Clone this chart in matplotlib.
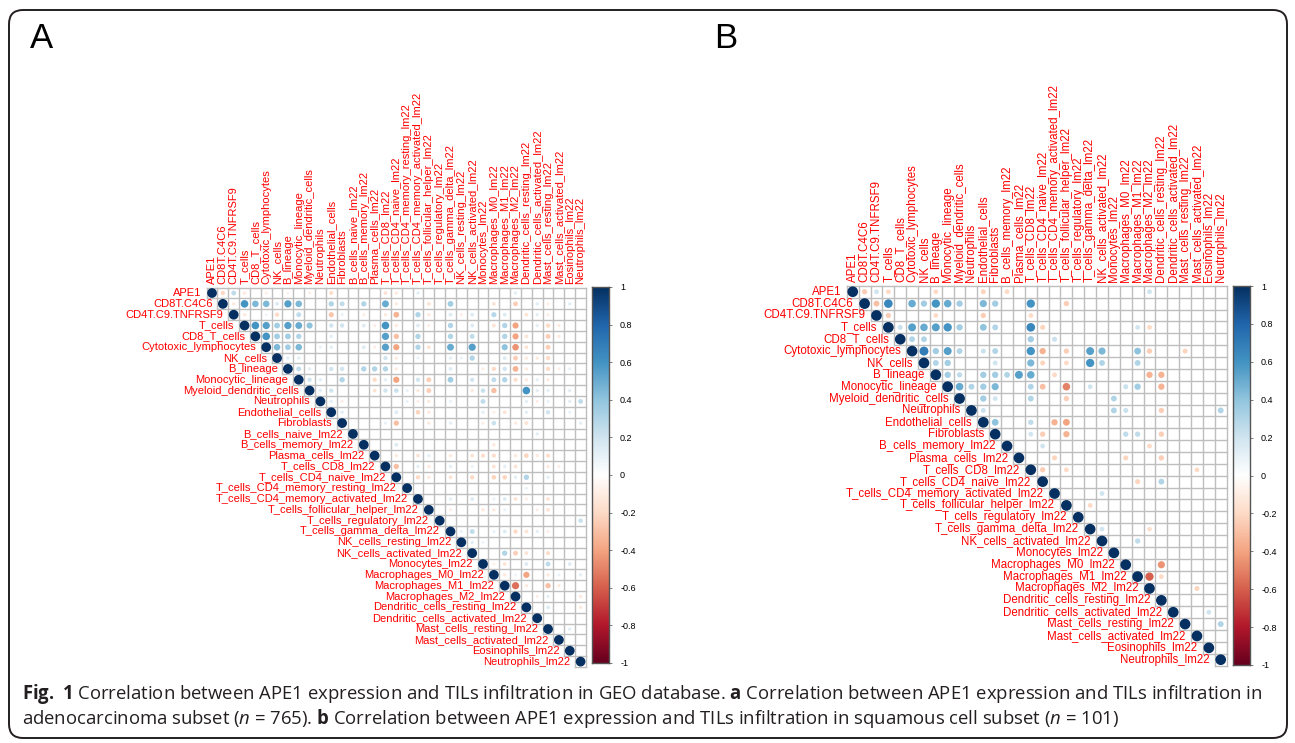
import numpy as np
import matplotlib
matplotlib.use('Agg')
import matplotlib.pyplot as plt
from matplotlib.patches import Circle, FancyBboxPatch
from matplotlib.colors import LinearSegmentedColormap
from matplotlib.transforms import IdentityTransform

plt.rcParams['font.family'] = ['Liberation Sans', 'DejaVu Sans']
plt.rcParams['mathtext.fontset'] = 'custom'
plt.rcParams['mathtext.rm'] = 'Open Sans'
plt.rcParams['mathtext.bf'] = 'Open Sans:bold'
plt.rcParams['mathtext.it'] = 'Open Sans:italic'

W, H = 1295, 743

# ==================== 数据 ====================
A_LABELS = ['APE1', 'CD8T.C4C6', 'CD4T.C9.TNFRSF9', 'T_cells', 'CD8_T_cells',
            'Cytotoxic_lymphocytes', 'NK_cells', 'B_lineage', 'Monocytic_lineage',
            'Myeloid_dendritic_cells', 'Neutrophils', 'Endothelial_cells', 'Fibroblasts',
            'B_cells_naive_lm22', 'B_cells_memory_lm22', 'Plasma_cells_lm22',
            'T_cells_CD8_lm22', 'T_cells_CD4_naive_lm22', 'T_cells_CD4_memory_resting_lm22',
            'T_cells_CD4_memory_activated_lm22', 'T_cells_follicular_helper_lm22',
            'T_cells_regulatory_lm22', 'T_cells_gamma_delta_lm22', 'NK_cells_resting_lm22',
            'NK_cells_activated_lm22', 'Monocytes_lm22', 'Macrophages_M0_lm22',
            'Macrophages_M1_lm22', 'Macrophages_M2_lm22', 'Dendritic_cells_resting_lm22',
            'Dendritic_cells_activated_lm22', 'Mast_cells_resting_lm22',
            'Mast_cells_activated_lm22', 'Eosinophils_lm22', 'Neutrophils_lm22']

B_LABELS = ['APE1', 'CD8T.C4C6', 'CD4T.C9.TNFRSF9', 'T_cells', 'CD8_T_cells',
            'Cytotoxic_lymphocytes', 'NK_cells', 'B_lineage', 'Monocytic_lineage',
            'Myeloid_dendritic_cells', 'Neutrophils', 'Endothelial_cells', 'Fibroblasts',
            'B_cells_memory_lm22', 'Plasma_cells_lm22', 'T_cells_CD8_lm22',
            'T_cells_CD4_naive_lm22', 'T_cells_CD4_memory_activated_lm22',
            'T_cells_follicular_helper_lm22', 'T_cells_regulatory_lm22',
            'T_cells_gamma_delta_lm22', 'NK_cells_activated_lm22', 'Monocytes_lm22',
            'Macrophages_M0_lm22', 'Macrophages_M1_lm22', 'Macrophages_M2_lm22',
            'Dendritic_cells_resting_lm22', 'Dendritic_cells_activated_lm22',
            'Mast_cells_resting_lm22', 'Mast_cells_activated_lm22', 'Eosinophils_lm22',
            'Neutrophils_lm22']

# 行号 -> [(列号, 相关系数)]，只记上三角中显著的格子（对角线=1另画）
A_CORR = {
    0: [(1, -.2), (2, .25), (3, -.12), (5, -.1), (7, -.08), (9, -.1), (11, -.18), (16, -.15),
        (17, -.12), (19, .12), (28, .12)],
    1: [(2, -.12), (3, .6), (4, .45), (5, .45), (6, .15), (7, .55), (8, .45), (11, .3), (12, .25),
        (14, .3), (16, .5), (17, -.12), (20, -.15), (22, .35), (26, -.15), (28, -.25), (30, .12),
        (31, -.1), (33, .12)],
    2: [(3, -.12), (5, .08), (6, -.2), (8, .25), (11, -.28), (12, .1), (14, -.1), (16, -.12),
        (17, -.35), (19, .3), (20, -.12), (22, .15), (23, -.1), (24, .15), (26, .28), (27, .15),
        (29, -.15), (30, .12), (31, -.1)],
    3: [(4, .6), (5, .55), (6, .35), (7, .55), (8, .5), (9, .4), (11, .2), (12, .2), (14, .15),
        (15, -.1), (16, .6), (17, -.12), (19, .15), (20, -.1), (22, .3), (24, .15), (26, -.15),
        (27, .3), (28, -.4), (30, .12), (31, -.2), (32, -.12)],
    4: [(5, .6), (6, .35), (7, .35), (8, .3), (11, .12), (16, .55), (17, -.3), (19, .3), (22, .3),
        (24, .25), (27, .3), (28, -.4), (29, -.15), (31, -.25), (32, -.12)],
    5: [(6, .45), (7, .35), (8, .45), (10, .1), (11, .12), (14, .15), (15, -.1), (16, .55),
        (17, -.4), (19, .3), (20, -.15), (22, .5), (24, .55), (27, .4), (28, -.45), (29, -.15),
        (31, -.25)],
    6: [(7, .12), (8, .12), (16, .2), (17, -.12), (19, .1), (22, .12), (23, .1), (24, .3),
        (27, .15), (28, -.25), (29, -.12), (30, -.12), (31, -.2)],
    7: [(8, .25), (9, .12), (11, .2), (12, .2), (14, .3), (15, .3), (16, .3), (17, -.12),
        (22, .15), (25, -.1), (26, -.2), (27, .2), (28, -.35), (29, -.12), (31, -.2), (32, -.1),
        (33, .1)],
    8: [(9, .2), (10, .12), (12, .3), (15, -.2), (16, .12), (17, -.4), (19, .2), (20, -.25),
        (22, .35), (24, .2), (26, .25), (27, .3), (28, -.18), (29, -.12), (30, .12), (31, -.12)],
    9: [(10, .12), (11, .2), (15, -.15), (16, .2), (17, .22), (18, .1), (19, -.12), (20, -.25),
        (24, -.12), (25, .22), (26, -.3), (29, .6), (30, .12), (31, .12), (33, .12)],
    10: [(11, .12), (12, -.1), (18, .1), (19, -.1), (20, -.12), (22, .1), (25, .25), (29, .12),
         (30, -.1), (31, .1), (33, .12), (34, .25)],
    11: [(12, .12), (17, .15), (19, -.22), (20, -.12), (25, .12), (26, -.1), (27, -.15),
         (29, .12), (31, .2), (33, .1)],
    12: [(16, .1), (17, -.3), (20, -.12), (22, .12), (25, -.1), (26, .22), (28, -.12),
         (29, -.15), (34, .12)],
    13: [(30, .12)],
    14: [(17, .15), (26, -.12)],
    15: [(17, -.12), (19, -.15), (20, .12), (22, -.12), (24, -.15), (25, -.18), (26, -.18),
         (28, -.12), (29, -.22), (30, -.12), (31, -.18)],
    16: [(17, -.3), (19, .12), (20, -.12), (22, .12), (24, .1), (26, -.15), (27, .12),
         (28, -.15), (31, -.12), (32, -.1)],
    17: [(19, -.2), (20, -.12), (22, -.15), (24, -.2), (26, -.22), (27, -.22), (28, .12),
         (29, .3), (31, .12)],
    18: [(29, .1)],
    19: [(22, .12), (24, .15), (26, .1), (27, .15), (28, -.15), (29, -.1), (31, -.15)],
    20: [(22, -.1), (25, -.12), (26, -.12), (27, .1), (30, -.1), (31, -.15)],
    21: [(34, .22)],
    22: [(23, .1), (24, .25), (26, .1), (27, .15), (28, -.2), (29, -.15), (30, .12), (31, -.1)],
    23: [(24, .12), (25, .08)],
    24: [(27, .3), (28, -.25), (29, -.15), (31, -.18)],
    25: [(26, -.08), (27, -.15), (29, .15), (31, .25), (33, .15)],
    26: [(27, -.12), (28, .08), (29, -.4), (31, -.12), (32, .1), (34, .12)],
    27: [(28, -.55), (29, -.12), (31, -.3), (32, -.12)],
    28: [(30, -.1), (31, .12), (34, -.12)],
    29: [(31, .15), (34, -.12)],
    31: [(33, .12)],
}

B_CORR = {
    0: [(1, -.25), (2, .2), (3, -.2), (7, -.2), (11, -.22), (13, -.2), (25, .2)],
    1: [(2, -.3), (3, .65), (5, .5), (6, .35), (7, .6), (8, .5), (9, .35), (11, .45), (12, .35),
        (15, .6), (18, -.25)],
    2: [(3, -.25), (7, -.2), (11, -.25), (15, -.2)],
    3: [(4, .22), (5, .55), (6, .5), (7, .55), (8, .6), (9, .35), (11, .4), (12, .3), (15, .65),
        (16, -.22), (24, .2), (25, -.2)],
    4: [(5, .3), (6, .3), (15, .35), (17, .22)],
    5: [(6, .7), (7, .35), (8, .55), (9, .3), (11, .22), (12, .3), (15, .6), (16, -.35),
        (18, -.25), (20, .55), (21, .45), (24, .4), (25, -.25), (28, -.22)],
    6: [(7, .3), (8, .35), (12, .2), (15, .45), (16, -.22), (18, -.2), (20, .6), (21, .3),
        (24, .3)],
    7: [(8, .35), (9, .25), (11, .35), (12, .35), (13, .3), (14, .55), (15, .5), (17, -.2),
        (25, -.35), (26, -.35)],
    8: [(9, .5), (10, .3), (11, .35), (12, .45), (15, .3), (16, -.3), (18, -.5), (20, .2),
        (23, .22), (24, .35), (26, -.35)],
    9: [(11, .35), (12, .2), (15, .3), (18, -.25), (22, .3)],
    10: [(11, .22), (22, .3), (23, .22), (26, -.25), (31, .3)],
    11: [(12, .4), (15, .25), (17, -.35), (18, -.4)],
    12: [(15, .2), (16, -.25), (18, -.35), (23, .25), (24, .25), (26, -.25)],
    13: [(16, .2), (25, -.2)],
    14: [(17, -.22), (23, -.22), (26, -.25)],
    15: [(16, -.25), (18, -.2), (29, -.2)],
    16: [(24, -.22), (26, .3)],
    17: [(21, .2)],
    18: [(20, -.2)],
    20: [(21, .2), (25, -.18)],
    21: [(24, .25)],
    23: [(26, -.45)],
    24: [(25, -.6), (26, -.2)],
    25: [(29, -.22)],
    27: [(30, .2)],
    28: [(31, .3)],
}

CBAR_TICKS = [1, 0.8, 0.6, 0.4, 0.2, 0, -0.2, -0.4, -0.6, -0.8, -1]
CBAR_LABELS = ['1', '0.8', '0.6', '0.4', '0.2', '0', '-0.2', '-0.4', '-0.6', '-0.8', '-1']

CAPTION_1 = (r"$\mathbf{Fig.\ 1}$ Correlation between APE1 expression and TILs infiltration "
             r"in GEO database. $\mathbf{a}$ Correlation between APE1 expression and TILs "
             r"infiltration in")
CAPTION_2 = (r"adenocarcinoma subset ($\mathit{n}$ = 765). $\mathbf{b}$ Correlation between "
             r"APE1 expression and TILs infiltration in squamous cell subset ($\mathit{n}$ = 101)")

# corrplot 默认的 RdBu 配色
cmap = LinearSegmentedColormap.from_list(
    'corr', ['#67001F', '#B2182B', '#D6604D', '#F4A582', '#FDDBC7', '#FFFFFF',
             '#D1E5F0', '#92C5DE', '#4393C3', '#2166AC', '#053061'])


def px_axes(fig, x, y, w, h):
    return fig.add_axes([x / W, 1 - (y + h) / H, w / W, h / H])


def corr_panel(fig, labels, corr, x0, y0, cell, fs):
    n = len(labels)
    ax = px_axes(fig, x0, y0, n * cell, n * cell)
    ax.set_xlim(-0.5, n - 0.5)
    ax.set_ylim(n - 0.5, -0.5)
    ax.axis('off')

    # 上三角网格
    gcol = '#BEBEBE'
    for k in range(n + 1):
        ax.plot([max(k - 1, 0) - 0.5, n - 0.5], [k - 0.5, k - 0.5], color=gcol, lw=1,
                clip_on=False, zorder=1)
        ax.plot([k - 0.5, k - 0.5], [-0.5, min(k, n - 1) + 0.5], color=gcol, lw=1,
                clip_on=False, zorder=1)

    cells = [(i, i, 1.0) for i in range(n)]
    for i, row in corr.items():
        cells += [(i, j, r) for j, r in row]
    for i, j, r in cells:
        ax.add_patch(Circle((j, i), 0.45 * np.sqrt(abs(r)), facecolor=cmap((r + 1) / 2),
                            lw=0, zorder=2, clip_on=False))

    for k, lab in enumerate(labels):
        ax.text(k, -0.85, lab, rotation=90, ha='center', va='bottom', color='red',
                fontsize=fs, clip_on=False)
        ax.text(k - 0.95, k, lab, ha='right', va='center', color='red',
                fontsize=fs, clip_on=False)
    return ax


def colorbar(fig, x, y, w, h):
    cax = px_axes(fig, x, y, w, h)
    grad = np.linspace(1, -1, 256).reshape(-1, 1)
    cax.imshow(grad, cmap=cmap, vmin=-1, vmax=1, aspect='auto', extent=[0, 1, -1, 1])
    cax.set_xticks([])
    cax.yaxis.tick_right()
    cax.set_yticks(CBAR_TICKS)
    cax.set_yticklabels(CBAR_LABELS, fontsize=6.5)
    cax.tick_params(axis='y', length=2, width=0.6, color='#666666', pad=6)
    for s in cax.spines.values():
        s.set_color('#555555')
        s.set_linewidth(1)


# ==================== 绘图 ====================
fig = plt.figure(figsize=(W / 100, H / 100), dpi=100)
fig.patch.set_facecolor('white')

corr_panel(fig, A_LABELS, A_CORR, 206.6, 287.6, 10.84, 8.0)
colorbar(fig, 592, 287, 17, 376)
corr_panel(fig, B_LABELS, B_CORR, 846.8, 285.8, 11.87, 8.3)
colorbar(fig, 1233, 286, 17, 379)

fig.text(30 / W, 1 - 38 / H, 'A', fontsize=25, va='center', ha='left')
fig.text(714 / W, 1 - 38 / H, 'B', fontsize=25, va='center', ha='left')

# 外框
fig.add_artist(FancyBboxPatch((9, H - 738), 1278, 728,
                              boxstyle='round,pad=0,rounding_size=14',
                              fill=False, ec='#231F20', lw=1.4,
                              transform=IdentityTransform()))

# 图注（按宽度自动调整字号）
t1 = fig.text(22 / W, 1 - 694 / H, CAPTION_1, fontsize=12, family='Open Sans',
              color='#231F20', va='center', ha='left')
t2 = fig.text(22 / W, 1 - 718 / H, CAPTION_2, fontsize=12, family='Open Sans',
              color='#231F20', va='center', ha='left')
renderer = fig.canvas.get_renderer()
wid = t1.get_window_extent(renderer).width
size = 12 * 1240 / wid
t1.set_fontsize(size)
t2.set_fontsize(size)

fig.savefig('out.png', dpi=100)
